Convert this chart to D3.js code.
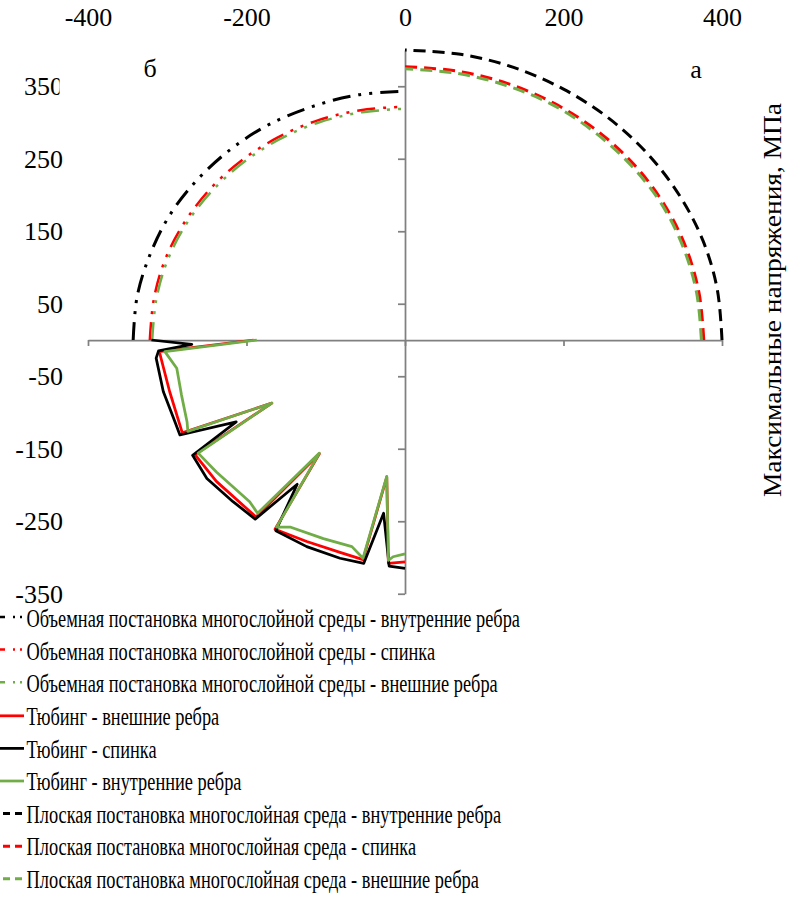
<!DOCTYPE html>
<html>
<head>
<meta charset="utf-8">
<script src="https://cdn.jsdelivr.net/npm/d3@7"></script>
<style>
    body { margin: 0; background: #fff; }
</style>
</head>
<body>
<svg id="chart" width="787" height="899"></svg>
<script>
// Ticks
const xTicks = [-400, -200, 0, 200, 400];
const yTicks = [-350, -250, -150, -50, 50, 150, 250, 350];

// б: объемная постановка (dash-dot-dot), quadrant II
const volInner = [[-343,0],[-338,60],[-322,117],[-297,172],[-263,220],[-220,263],[-172,297],[-117,322],[-60,338],[0,343]];
const volBack  = [[-322,0],[-317,56],[-303,110],[-279,161],[-247,207],[-207,247],[-161,279],[-110,303],[-56,317],[0,322]];
const volOuter = [[-319,0],[-314,55],[-300,109],[-276,160],[-244,205],[-205,244],[-160,276],[-109,300],[-55,314],[0,319]];

// Тюбинг (solid), quadrant III
const tubOuter = [[-191,0],[-310,-16],[-297,-71],[-281,-128],[-168,-87],[-265,-158],[-238,-195],[-188,-244],
    [-108,-157],[-164,-261],[-124,-278],[-82,-293],[-53,-303],[-23,-189],[-21,-308],[0,-306]];
const tubBack = [[-320,0],[-269,-6],[-311,-15],[-314,-25],[-305,-71],[-292,-108],[-284,-131],[-213,-113],
    [-268,-159],[-250,-191],[-217,-223],[-189,-247],[-136,-199],[-163,-263],[-124,-285],[-82,-301],
    [-52,-308],[-27,-239],[-20,-312],[0,-315]];
const tubInner = [[-187,0],[-303,-16],[-288,-39],[-282,-76],[-275,-113],[-274,-126],[-168,-87],[-261,-156],
    [-238,-182],[-196,-223],[-186,-239],[-108,-156],[-162,-258],[-145,-258],[-103,-274],[-67,-285],
    [-53,-301],[-23,-188],[-21,-304],[-15,-299],[0,-295]];

// а: плоская постановка (dashed), quadrant I
const planeInner = [[400,0],[394,70],[376,137],[346,200],[306,257],[257,306],[200,346],[137,376],[70,394],[0,400]];
const planeBack  = [[377,0],[371,65],[354,129],[326,189],[289,242],[242,289],[189,326],[129,354],[65,371],[0,377]];
const planeOuter = [[374,0],[368,65],[351,128],[324,187],[286,240],[240,286],[187,324],[128,351],[65,368],[0,374]];

const FONT = '"Liberation Serif", "Times New Roman", serif';
const GREEN = '#70AD47';
const DASHDOT = '18,8,3,8,3,8';
const DASH = '12,7';

// Series in legend order
const series = [
    { name: 'Объемная постановка многослойной среды - внутренние ребра', data: volInner, color: '#000', dash: DASHDOT, width: 3, type: 'dd' },
    { name: 'Объемная постановка многослойной среды - спинка', data: volBack, color: '#ff0000', dash: DASHDOT, width: 2.5, type: 'dd' },
    { name: 'Объемная постановка многослойной среды - внешние ребра', data: volOuter, color: GREEN, dash: DASHDOT, width: 2.5, type: 'dd' },
    { name: 'Тюбинг - внешние ребра', data: tubOuter, color: '#ff0000', dash: null, width: 2.75, type: 'solid' },
    { name: 'Тюбинг - спинка', data: tubBack, color: '#000', dash: null, width: 2.75, type: 'solid' },
    { name: 'Тюбинг - внутренние ребра', data: tubInner, color: GREEN, dash: null, width: 2.75, type: 'solid' },
    { name: 'Плоская постановка многослойная среда - внутренние ребра', data: planeInner, color: '#000', dash: DASH, width: 3, type: 'dash' },
    { name: 'Плоская постановка многослойная среда - спинка', data: planeBack, color: '#ff0000', dash: DASH, width: 3, type: 'dash' },
    { name: 'Плоская постановка многослойная среда - внешние ребра', data: planeOuter, color: GREEN, dash: DASH, width: 3, type: 'dash' }
];

const svg = d3.select('#chart');
const x = d3.scaleLinear().domain([-400, 400]).range([88, 722]);
const y = d3.scaleLinear().domain([-350, 400]).range([593.75, 50]);
const AXIS = '#808080';

// Axis lines with ticks
const xAxisG = svg.append('g')
    .attr('transform', `translate(0,${y(0)})`)
    .call(d3.axisBottom(x).tickValues(xTicks).tickSize(6).tickSizeOuter(0).tickFormat(''));
const yAxisG = svg.append('g')
    .attr('transform', `translate(${x(0)},0)`)
    .call(d3.axisLeft(y).tickValues(yTicks).tickSize(7).tickSizeOuter(0).tickFormat(''));
[xAxisG, yAxisG].forEach(g => {
    g.selectAll('path, line').attr('stroke', AXIS).attr('stroke-width', 1.75);
});

// Tick labels (top and left)
const xLab = svg.append('g')
    .attr('transform', 'translate(0,26)')
    .call(d3.axisTop(x).tickValues(xTicks).tickSize(0).tickPadding(0).tickFormat(d => String(d)));
xLab.select('.domain').remove();

const yLab = svg.append('g')
    .attr('transform', 'translate(63,0)')
    .call(d3.axisLeft(y).tickValues(yTicks).tickSize(0).tickPadding(0).tickFormat(d => String(d)));
yLab.select('.domain').remove();

[xLab, yLab].forEach(g => {
    g.attr('font-family', null);
    g.selectAll('text').style('font-family', FONT).style('font-size', '26px').attr('fill', '#000');
});

// the 350 label is cut off in the original
svg.append('clipPath').attr('id', 'cut350')
    .append('rect').attr('x', -63).attr('y', -100).attr('width', 59.5).attr('height', 1000);
yLab.selectAll('.tick').filter(d => d === 350).select('text').attr('clip-path', 'url(#cut350)');

// Quadrant letters
svg.append('text').attr('x', 150).attr('y', 77).attr('text-anchor', 'middle')
    .style('font-family', FONT).style('font-size', '26px').text('б');
svg.append('text').attr('x', 696).attr('y', 78).attr('text-anchor', 'middle')
    .style('font-family', FONT).style('font-size', '26px').text('а');

// Axis title
svg.append('text')
    .attr('transform', 'translate(781,300) rotate(-90)')
    .attr('text-anchor', 'middle')
    .style('font-family', FONT).style('font-size', '26px')
    .attr('textLength', 394)
    .attr('lengthAdjust', 'spacingAndGlyphs')
    .text('Максимальные напряжения, МПа');

// Lines: smoothed arcs, straight segments for the tubing
const smooth = d3.line().x(d => x(d[0])).y(d => y(d[1])).curve(d3.curveCatmullRom);
const straight = d3.line().x(d => x(d[0])).y(d => y(d[1]));
const lineG = svg.append('g');
series.forEach(s => {
    lineG.append('path')
        .attr('d', (s.type === 'solid' ? straight : smooth)(s.data))
        .attr('fill', 'none')
        .attr('stroke', s.color)
        .attr('stroke-width', s.width)
        .attr('stroke-dasharray', s.dash)
        .attr('stroke-linejoin', 'round');
});

// Legend
const legend = svg.append('g');
const legY0 = 619, legStep = 32.6;
const texts = [];
series.forEach((s, i) => {
    const cy = legY0 + i * legStep;
    if (s.type === 'dd') {
        legend.append('line').attr('x1', 0).attr('x2', 24).attr('y1', cy - 2).attr('y2', cy - 2)
            .attr('stroke', s.color).attr('stroke-width', 2.5).attr('stroke-dasharray', '5,8,2,5,2,10');
    } else if (s.type === 'dash') {
        legend.append('line').attr('x1', 3).attr('x2', 23).attr('y1', cy - 1).attr('y2', cy - 1)
            .attr('stroke', s.color).attr('stroke-width', 3).attr('stroke-dasharray', '7,5');
    } else {
        legend.append('line').attr('x1', 0).attr('x2', 24).attr('y1', cy - 1).attr('y2', cy - 1)
            .attr('stroke', s.color).attr('stroke-width', 2.75);
    }
    texts.push(legend.append('text')
        .attr('x', 0).attr('y', 0)
        .attr('dy', '0.33em')
        .style('font-family', FONT).style('font-size', '25px')
        .datum(cy)
        .text(s.name));
});
// the legend text is horizontally squeezed in the original
const k = 494 / texts[0].node().getComputedTextLength();
texts.forEach(t => t.attr('transform', `translate(26.5,${t.datum()}) scale(${k},1)`));
</script>
</body>
</html>
